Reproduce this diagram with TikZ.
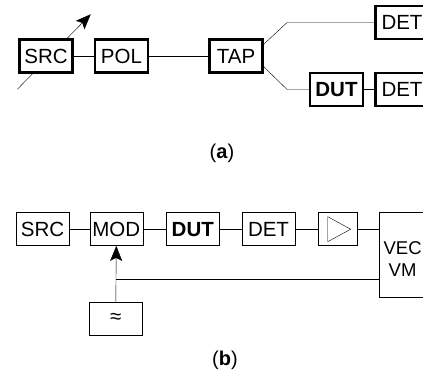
\documentclass[tikz,border=0pt]{standalone}
\usepackage{fontspec}
\setmainfont{Liberation Sans}
\usetikzlibrary{arrows.meta,backgrounds,calc}
\begin{document}
\begin{tikzpicture}[x=1pt,y=-1pt, line width=2.4pt, line join=miter,
  box/.style={draw, fill=white, inner sep=0pt, minimum width=#1, minimum height=33pt,
    font=\fontsize{20.5}{22}\selectfont},
  box/.default=53pt,
  tip/.style={-{Stealth[length=15pt,width=12pt,inset=3pt]}},
  captxt/.style={font=\fontsize{20}{22}\selectfont}
]
\useasboundingbox (0,0) rectangle (423,371);
\clip (0,0) rectangle (423,371);

% ---------- (a) ----------
\node[box] (src1) at (46,56) {SRC};
\node[box] (pol) at (121.5,56) {POL};
\node[box] (tap) at (236,56) {TAP};
\node[box] (det1) at (402,22.5) {DET};
\node[box] (dut1) at (336.5,89.5) {\bfseries DUT};
\node[box] (det2) at (402,89.5) {DET};
\coordinate (a0) at (17.3,89.3);
\coordinate (a1) at (90.7,14.3);
\begin{pgfonlayer}{background}
  \draw[tip] (a0) -- (a1);
\end{pgfonlayer}
\draw (src1) -- (pol);
\draw (pol) -- (tap);
\draw ($(tap.east)+(0,-11.7)$) -- ++(23.4,-21.8) -- (det1.west);
\draw ($(tap.east)+(0,10.7)$) -- ++(23.4,22.8) -- (dut1.west);
\draw (dut1) -- (det2);
\node[captxt] (capa) at (222,153) {(\textbf{a})};

% ---------- (b) ----------
\node[box] (src2) at (42.5,229.2) {SRC};
\node[box] (mod) at (116.3,229.2) {MOD};
\node[box] (dut2) at (192.8,229.2) {\bfseries DUT};
\node[box] (det3) at (268.5,229.2) {DET};
\node[box=39pt] (amp) at (337.7,229.2) {};
\draw[shift={(amp.center)}] (-10,-12.5) -- (-10,12.5) -- (13,0) -- cycle;
\node[box=49pt, minimum height=85pt] (vec) at (404,255) {};
\node[align=center, inner sep=0pt, font=\fontsize{18.5}{21.7}\selectfont] (vectxt)
  at ($(vec.center)+(-1.4,4)$) {VEC\\VM};
\node[box] (osc) at (115.8,318.3) {≈};
\coordinate (j) at (116.3,279.3);
\draw (src2) -- (mod);
\draw (mod) -- (dut2);
\draw (dut2) -- (det3);
\draw (det3) -- (amp);
\draw (amp) -- (amp -| vec.west);
\draw (vec.west |- j) -- (j);
\draw[tip] (osc.north) -- (mod.south);
\node[captxt] (capb) at (225,360) {(\textbf{b})};
\end{tikzpicture}
\end{document}
